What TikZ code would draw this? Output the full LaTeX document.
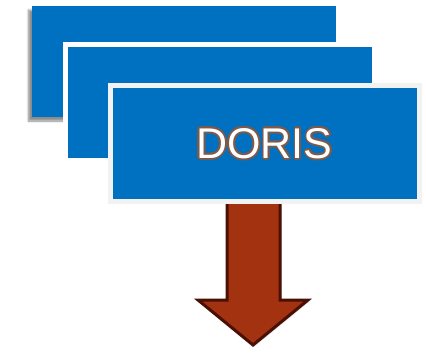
\documentclass[tikz,border=0pt]{standalone}
\usepackage{fontspec}
\setmainfont{Liberation Sans}
\usetikzlibrary{shadows,shadows.blur,positioning}
\definecolor{doriblue}{HTML}{0070C0}
\definecolor{arrowred}{HTML}{A33210}
\definecolor{arrowrim}{HTML}{4A1005}
\definecolor{rimbrown}{HTML}{7B5A4C}
\begin{document}
\begin{tikzpicture}[x=1pt,y=-1pt,%
% common options for the stacked panels:
panel/.style = {fill=doriblue, minimum width=304pt, minimum height=111pt,
            inner sep=0},
% white frame round the front panels:
framed/.style = {panel, draw=#1, line width=5pt,
            minimum width=309pt, minimum height=116pt},
% letters of the title:
title/.style = {font=\fontsize{43}{43}\selectfont, inner sep=0}]
\useasboundingbox (0,0) rectangle (426,356);
% back panel
\node[panel, blur shadow={shadow xshift=-3pt, shadow yshift=-4pt,
      shadow blur steps=6, shadow opacity=45}] (P1) at (183.5,61.5) {};
\node[framed=white] (P2) at (219.5,102) {};
% arrow behind the front panel
\coordinate (S1) at (227,190);
\coordinate (S2) at (280,190);
\coordinate (H1) at (198,300);
\coordinate (H2) at (308,300);
\coordinate (T)  at (253,345);
\draw[arrowrim, fill=arrowred, line width=3pt, line join=miter,
      drop shadow={shadow xshift=1.5pt, shadow yshift=-1.5pt, opacity=0.25}]
  (S1) -- (S2) -- (S2 |- H2) -- (H2) -- (T) -- (H1) -- (H1 -| S1) -- cycle;
\node[framed=gray!10] (P3) at (264.5,143.5) {};
% outlined title
\foreach \a in {0,30,...,330}
  \node[title, text=rimbrown] (c\a) at ([shift={(\a:1.8pt)}]P3.center) {DORIS};
\node[title, text=white] (D) at (P3.center) {DORIS};
\end{tikzpicture}
\end{document}
